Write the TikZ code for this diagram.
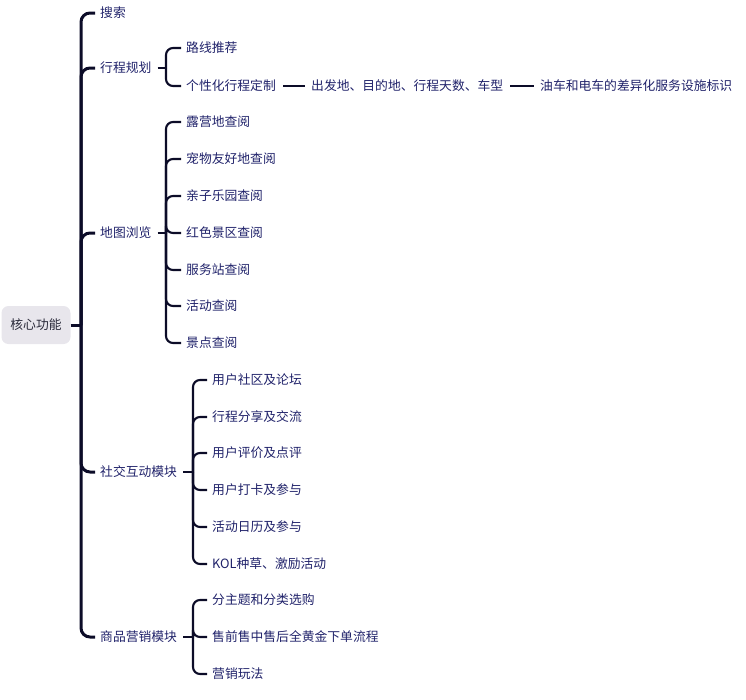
\documentclass[tikz,border=0pt]{standalone}
\usepackage{fontspec}
\newfontfamily\cjk{Noto Sans CJK SC}
\definecolor{txt}{HTML}{20226A}
\definecolor{ln}{HTML}{0C0C28}
\definecolor{rootfill}{HTML}{E8E6EC}
\definecolor{roottxt}{HTML}{2A2A3A}
\tikzset{
  lbl/.style={anchor=west, inner sep=0pt, yshift=0.7pt, text=txt, font=\cjk\fontsize{12.8}{15}\selectfont},
  lone/.style={draw=ln, line width=3pt, rounded corners=9pt},
  ltwo/.style={draw=ln, line width=2.1pt, rounded corners=7pt},
  lflat/.style={draw=ln, line width=2.1pt},
}
\begin{document}
\begin{tikzpicture}[x=1pt,y=-1pt]
\useasboundingbox (0,0) rectangle (746,699);
% root
\node[draw=none, fill=rootfill, rounded corners=7pt, minimum width=69pt, minimum height=38pt, inner sep=0pt, text=roottxt, font=\cjk\fontsize{12.8}{15}\selectfont] (root) at (36,325) {核心功能};
\coordinate (j1) at (81,325);
\draw[lone] (root.east) -- (j1);
% level 1
\node[lbl] (a) at (100,13) {搜索};
\node[lbl] (b) at (100,68) {行程规划};
\node[lbl] (c) at (100,233) {地图浏览};
\node[lbl] (d) at (100,472) {社交互动模块};
\node[lbl] (e) at (100,637) {商品营销模块};
\foreach \n in {a,b,c,d,e}{
  \draw[lone] (j1) |- ([xshift=-5pt,yshift=-0.7pt]\n.west);
}
% 行程规划
\coordinate (jb) at (166,68);
\draw[ltwo] ([xshift=6pt,yshift=-0.7pt]b.east) -- (jb);
\node[lbl] (b1) at (186,48) {路线推荐};
\node[lbl] (b2) at (186,86) {个性化行程定制};
\foreach \n in {b1,b2}{
  \draw[ltwo] (jb) |- ([xshift=-5pt,yshift=-0.7pt]\n.west);
}
\node[lbl] (b3) at (311,86) {出发地、目的地、行程天数、车型};
\node[lbl] (b4) at (540,86) {油车和电车的差异化服务设施标识};
\draw[lflat] ([xshift=7pt,yshift=-0.7pt]b2.east) -- ([xshift=-6pt,yshift=-0.7pt]b3.west);
\draw[lflat] ([xshift=7pt,yshift=-0.7pt]b3.east) -- ([xshift=-6pt,yshift=-0.7pt]b4.west);
% 地图浏览
\coordinate (jc) at (166,233);
\draw[ltwo] ([xshift=6pt,yshift=-0.7pt]c.east) -- (jc);
\node[lbl] (c1) at (186,122) {露营地查阅};
\node[lbl] (c2) at (186,159) {宠物友好地查阅};
\node[lbl] (c3) at (186,196) {亲子乐园查阅};
\node[lbl] (c4) at (186,233) {红色景区查阅};
\node[lbl] (c5) at (186,270) {服务站查阅};
\node[lbl] (c6) at (186,306) {活动查阅};
\node[lbl] (c7) at (186,343) {景点查阅};
\foreach \n in {c1,c2,c3,c4,c5,c6,c7}{
  \draw[ltwo] (jc) |- ([xshift=-5pt,yshift=-0.7pt]\n.west);
}
% 社交互动模块
\coordinate (jd) at (193,472);
\draw[ltwo] ([xshift=6pt,yshift=-0.7pt]d.east) -- (jd);
\node[lbl] (d1) at (212,380) {用户社区及论坛};
\node[lbl] (d2) at (212,417) {行程分享及交流};
\node[lbl] (d3) at (212,453) {用户评价及点评};
\node[lbl] (d4) at (212,490) {用户打卡及参与};
\node[lbl] (d5) at (212,527) {活动日历及参与};
\node[lbl] (d6) at (212,564) {KOL种草、激励活动};
\foreach \n in {d1,d2,d3,d4,d5,d6}{
  \draw[ltwo] (jd) |- ([xshift=-5pt,yshift=-0.7pt]\n.west);
}
% 商品营销模块
\coordinate (je) at (193,637);
\draw[ltwo] ([xshift=6pt,yshift=-0.7pt]e.east) -- (je);
\node[lbl] (e1) at (212,600) {分主题和分类选购};
\node[lbl] (e2) at (212,637) {售前售中售后全黄金下单流程};
\node[lbl] (e3) at (212,674) {营销玩法};
\foreach \n in {e1,e2,e3}{
  \draw[ltwo] (je) |- ([xshift=-5pt,yshift=-0.7pt]\n.west);
}
\end{tikzpicture}
\end{document}
